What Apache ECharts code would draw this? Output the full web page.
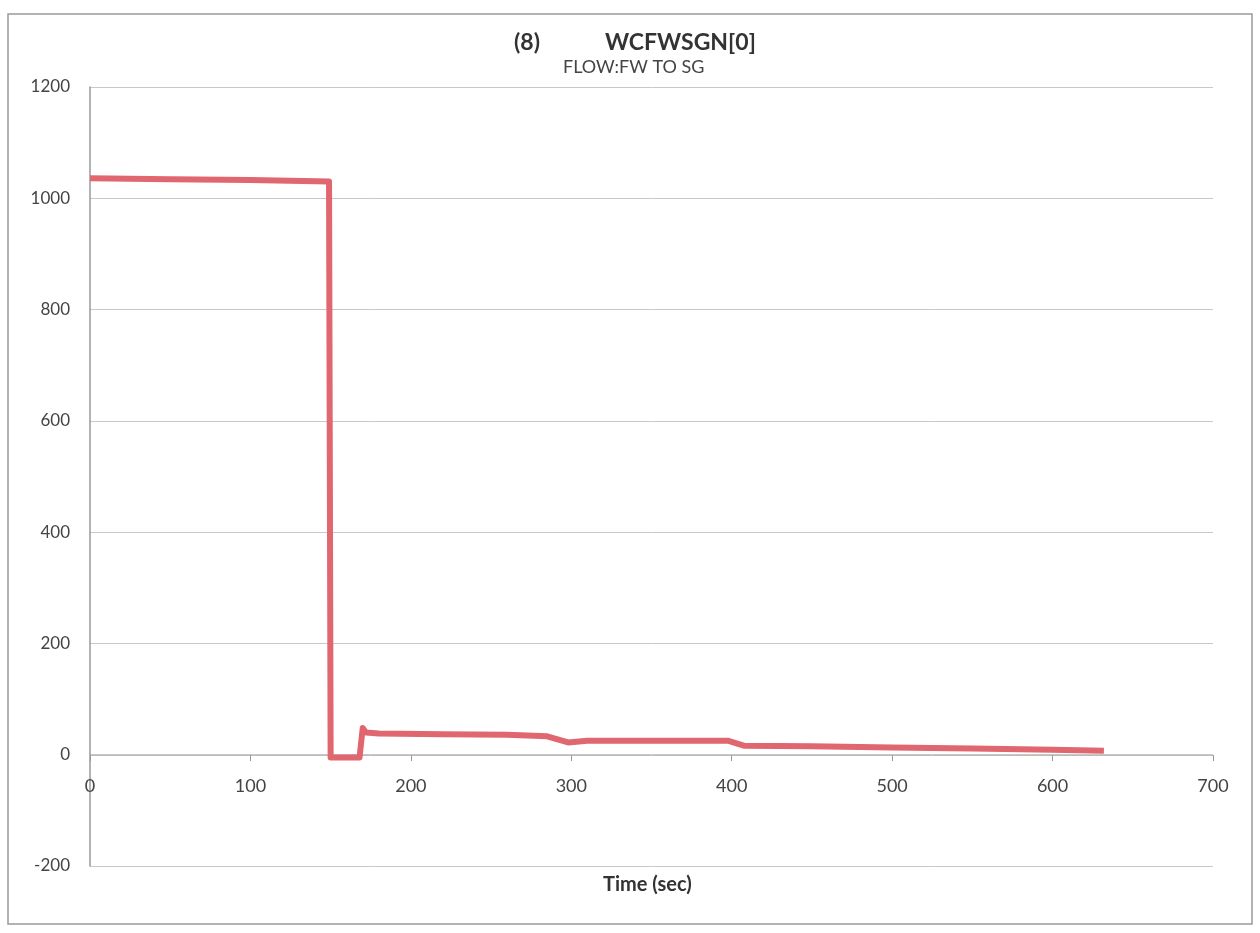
<!DOCTYPE html>
<html><head><meta charset="utf-8">
<script src="https://cdn.jsdelivr.net/npm/echarts@6/dist/echarts.min.js"></script>
<style>html,body{margin:0;padding:0;background:#fff}#c{width:1260px;height:933px}</style>
</head><body><div id="c"></div>
<script>
const timeSec = [0, 50, 100, 149, 150, 168, 170, 172, 180, 220, 260, 285, 298, 310, 350, 398, 408, 450, 500, 550, 600, 632];
const flowValues = [1036, 1034, 1033, 1030, -5, -5, 48, 40, 38, 37, 36, 33, 22, 25, 25, 25, 16, 15, 13, 11, 9, 7];
const chartNumber = '(8)';
const chartTitle = 'WCFWSGN[0]';
const chartSubtitle = 'FLOW:FW TO SG';
const xAxisName = 'Time (sec)';

const chart = echarts.init(document.getElementById('c'));
const fontFam = 'Lato, "Open Sans", sans-serif';
chart.setOption({
  animation: false,
  grid: {left: 90, right: 47, top: 87, bottom: 67, containLabel: false, outerBoundsMode: 'none'},
  graphic: [
    {type: 'rect', shape: {x: 8, y: 14, width: 1244, height: 910}, style: {fill: 'none', stroke: '#9a9a9a', lineWidth: 1.5}},
    {type: 'text', left: 514, top: 31, style: {text: chartNumber, font: 'bold 23px ' + fontFam, fill: '#333'}},
    {type: 'text', left: 605, top: 31, style: {text: chartTitle, font: 'bold 23px ' + fontFam, fill: '#333'}},
    {type: 'text', left: 563, top: 58, style: {text: chartSubtitle, font: '18px ' + fontFam, fill: '#444'}},
    {type: 'text', left: 603, top: 875, style: {text: xAxisName, font: 'bold 20px ' + fontFam, fill: '#333'}}
  ],
  xAxis: {
    type: 'value', min: 0, max: 700, interval: 100,
    offset: -111,
    axisLine: {onZero: false, lineStyle: {color: '#bbb', width: 1}},
    axisTick: {show: true, length: 6, lineStyle: {color: '#999'}},
    axisLabel: {fontFamily: fontFam, fontSize: 18, color: '#444', margin: 22},
    splitLine: {show: false}
  },
  yAxis: {
    type: 'value', min: -200, max: 1200, interval: 200,
    axisLine: {show: true, lineStyle: {color: '#999', width: 1.5}},
    axisTick: {show: false},
    axisLabel: {fontFamily: fontFam, fontSize: 17, color: '#444', margin: 20, formatter: v => String(v)},
    splitLine: {show: true, lineStyle: {color: '#c8c8c8', width: 1}}
  },
  series: [{
    type: 'line',
    data: timeSec.map((t, i) => [t, flowValues[i]]),
    showSymbol: false,
    lineStyle: {color: '#e06670', width: 6, join: 'round'},
    itemStyle: {color: '#e06670'}
  }]
});
</script></body></html>
